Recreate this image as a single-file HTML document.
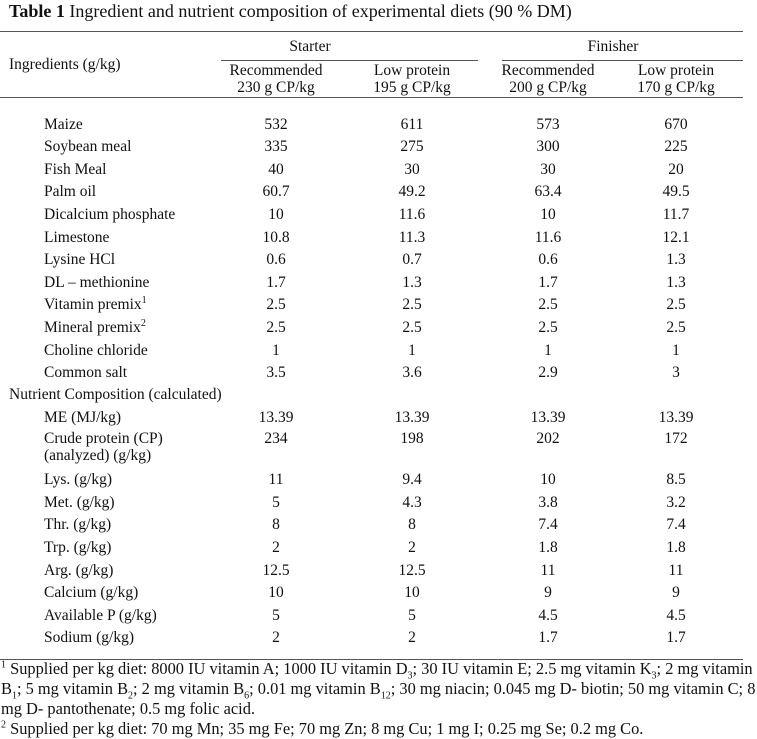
<!DOCTYPE html>
<html><head><meta charset="utf-8"><style>
body{margin:0;width:757px;height:735px;background:#fff;font-family:"Liberation Serif",serif;font-size:15.5px;color:#111;position:relative;overflow:hidden}
div{position:absolute;white-space:nowrap;line-height:17px}
.c{transform:translateX(-50%);text-align:center}
.l{left:44px}
.hr{height:0;border-top:1.3px solid #555}
sup,sub{font-size:10px;line-height:0}
</style></head><body>
<div style="left:9px;top:1px;font-size:18px;line-height:20px"><b>Table 1</b> Ingredient and nutrient composition of experimental diets (90 % DM)</div>
<div class="hr" style="left:0;width:743px;top:31px;border-top-width:1.6px"></div>
<div class="c" style="left:310px;top:38px">Starter</div>
<div class="c" style="left:613px;top:38px">Finisher</div>
<div class="hr" style="left:221px;width:257px;top:60px"></div>
<div class="hr" style="left:502px;width:241px;top:60px"></div>
<div style="left:9px;top:56px">Ingredients (g/kg)</div>
<div class="c" style="left:276px;top:62px">Recommended<br>230 g CP/kg</div>
<div class="c" style="left:412px;top:62px">Low protein<br>195 g CP/kg</div>
<div class="c" style="left:548px;top:62px">Recommended<br>200 g CP/kg</div>
<div class="c" style="left:676px;top:62px">Low protein<br>170 g CP/kg</div>
<div class="hr" style="left:0;width:743px;top:97px"></div>
<div style="left:9px;top:386px">Nutrient Composition (calculated)</div>
<div class="hr" style="left:0;width:743px;top:659px"></div>
<div style="left:1px;top:659px;line-height:20px;font-size:16.4px"><sup>1</sup> Supplied per kg diet: 8000 IU vitamin A; 1000 IU vitamin D<sub>3</sub>; 30 IU vitamin E; 2.5 mg vitamin K<sub>3</sub>; 2 mg vitamin<br>B<sub>1</sub>; 5 mg vitamin B<sub>2</sub>; 2 mg vitamin B<sub>6</sub>; 0.01 mg vitamin B<sub>12</sub>; 30 mg niacin; 0.045 mg D- biotin; 50 mg vitamin C; 8<br>mg D- pantothenate; 0.5 mg folic acid.<br><sup>2</sup> Supplied per kg diet: 70 mg Mn; 35 mg Fe; 70 mg Zn; 8 mg Cu; 1 mg I; 0.25 mg Se; 0.2 mg Co.</div>
<script>
const rows=[
["Maize",124,"532","611","573","670"],
["Soybean meal",146,"335","275","300","225"],
["Fish Meal",169,"40","30","30","20"],
["Palm oil",191,"60.7","49.2","63.4","49.5"],
["Dicalcium phosphate",214,"10","11.6","10","11.7"],
["Limestone",237,"10.8","11.3","11.6","12.1"],
["Lysine HCl",259,"0.6","0.7","0.6","1.3"],
["DL – methionine",282,"1.7","1.3","1.7","1.3"],
["Vitamin premix<sup>1</sup>",304,"2.5","2.5","2.5","2.5"],
["Mineral premix<sup>2</sup>",327,"2.5","2.5","2.5","2.5"],
["Choline chloride",350,"1","1","1","1"],
["Common salt",372,"3.5","3.6","2.9","3"],
["ME (MJ/kg)",417,"13.39","13.39","13.39","13.39"],
["Crude protein (CP)<br>(analyzed) (g/kg)",447,"234","198","202","172"],
["Lys. (g/kg)",479,"11","9.4","10","8.5"],
["Met. (g/kg)",502,"5","4.3","3.8","3.2"],
["Thr. (g/kg)",524,"8","8","7.4","7.4"],
["Trp. (g/kg)",547,"2","2","1.8","1.8"],
["Arg. (g/kg)",570,"12.5","12.5","11","11"],
["Calcium (g/kg)",592,"10","10","9","9"],
["Available P (g/kg)",615,"5","5","4.5","4.5"],
["Sodium (g/kg)",637,"2","2","1.7","1.7"]];
const cx=[276,412,548,676];
const host=document.body;
rows.forEach(r=>{
 const lab=document.createElement('div');
 lab.className='l';lab.innerHTML=r[0];
 const two=r[0].includes('<br>');
 lab.style.top=(r[1]-(two?17:8.5))+'px';
 
 
 host.appendChild(lab);
 for(let i=0;i<4;i++){
  const v=document.createElement('div');
  v.className='c';v.textContent=r[2+i];
  v.style.left=cx[i]+'px';v.style.top=(r[1]-(two?17:8.5))+'px';
  
  
  host.appendChild(v);
 }
});
</script>
</body></html>
